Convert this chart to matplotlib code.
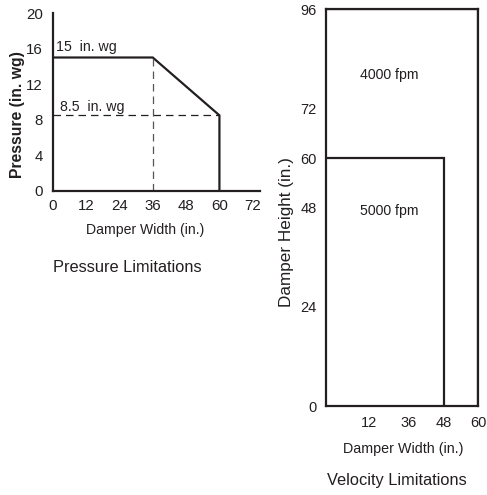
import numpy as np
import matplotlib
matplotlib.use("Agg")
import matplotlib.pyplot as plt

plt.rcParams['font.family'] = ['Liberation Sans', 'DejaVu Sans']

# Pressure limitations (left chart)
press_width = [0, 36, 60, 60]
press_value = [15, 15, 8.5, 0]
press_high, press_low = 15, 8.5
press_knee = 36
press_xticks = [0, 12, 24, 36, 48, 60, 72]
press_yticks = [0, 4, 8, 12, 16, 20]

# Velocity limitations (right chart)
vel_xticks = [12, 36, 48, 60]
vel_yticks = [0, 24, 48, 60, 72, 96]
vel_zones = ["4000 fpm", "5000 fpm"]
vel_widths = [60, 48]
vel_heights = [96, 60]

# the printed width axis is not linear: value -> drawn distance
vel_axis_vals = [0, 12, 36, 48, 60]
vel_axis_pos = [0, 43, 82, 117, 151]

ink = '#231f20'
fig = plt.figure(figsize=(4.87, 4.95), dpi=100)
W, H = 487, 495

# ----------------------------------------------------------------- left
ax1 = fig.add_axes([52.7 / W, 1 - 191 / H, (260 - 52.7) / W, (191 - 13) / H])
ax1.plot(press_width, press_value, color=ink, lw=1.6, solid_joinstyle='miter')
ax1.plot([0, press_width[2]], [press_low, press_low], color=ink, lw=0.9,
         dashes=(6, 4))
ax1.plot([press_knee, press_knee], [0, press_high], color='#555555', lw=0.9,
         dashes=(6, 4))
ax1.set_xlim(0, 74.6)
ax1.set_ylim(0, 20)
ax1.set_xticks(press_xticks)
ax1.set_yticks(press_yticks)
ax1.tick_params(length=0, labelsize=10.8, colors=ink)
ax1.tick_params(axis='x', pad=6)
ax1.tick_params(axis='y', pad=7)
for s in ['top', 'right']:
    ax1.spines[s].set_visible(False)
for s in ['left', 'bottom']:
    ax1.spines[s].set_linewidth(1.6)
    ax1.spines[s].set_color(ink)
ax1.text(1.2, press_high + 0.7, "15  in. wg", fontsize=10.2, color=ink)
ax1.text(2.5, press_low + 0.5, "8.5  in. wg", fontsize=10.2, color=ink)

fig.text(18 / W, 1 - 115 / H, "Pressure (in. wg)", rotation=90, fontsize=11.3,
         fontweight='bold', color=ink, ha='center', va='center')
fig.text(145 / W, 1 - 230 / H, "Damper Width (in.)", fontsize=10.1,
         color=ink, ha='center', va='center')
fig.text(127 / W, 1 - 268 / H, "Pressure Limitations", fontsize=11.8,
         color=ink, ha='center', va='center')

# ---------------------------------------------------------------- right
def fwd(v):
    return np.interp(v, vel_axis_vals, vel_axis_pos)


def inv(p):
    return np.interp(p, vel_axis_pos, vel_axis_vals)


ax2 = fig.add_axes([326 / W, 1 - 406 / H, (478 - 326) / W, (406 - 9.3) / H])
ax2.set_xscale('function', functions=(fwd, inv))
for w, h in zip(vel_widths, vel_heights):
    ax2.plot([0, w, w], [h, h, 0], color=ink, lw=1.6, solid_joinstyle='miter')
ax2.set_xlim(0, 60)
ax2.set_ylim(0, 96)
ax2.set_xticks(vel_xticks)
ax2.set_xticklabels([str(v) for v in vel_xticks])
ax2.set_yticks(vel_yticks)
ax2.set_yticklabels([str(v) for v in vel_yticks])
ax2.xaxis.set_minor_locator(matplotlib.ticker.NullLocator())
ax2.tick_params(length=0, labelsize=10.5, colors=ink)
ax2.tick_params(axis='x', pad=7)
ax2.tick_params(axis='y', pad=6.5)
for s in ax2.spines.values():
    s.set_linewidth(1.6)
    s.set_color(ink)
ax2.text(24.3, 80, vel_zones[0], fontsize=10.2, color=ink, ha='center', va='center')
ax2.text(24.3, 47.2, vel_zones[1], fontsize=10.2, color=ink, ha='center', va='center')

fig.text(286 / W, 1 - 232 / H, "Damper Height (in.)", rotation=90, fontsize=12.3,
         color=ink, ha='center', va='center')
fig.text(403 / W, 1 - 449 / H, "Damper Width (in.)", fontsize=10.3,
         color=ink, ha='center', va='center')
fig.text(397 / W, 1 - 480 / H, "Velocity Limitations", fontsize=11.8,
         color=ink, ha='center', va='center')

fig.savefig("out.png", dpi=100)
